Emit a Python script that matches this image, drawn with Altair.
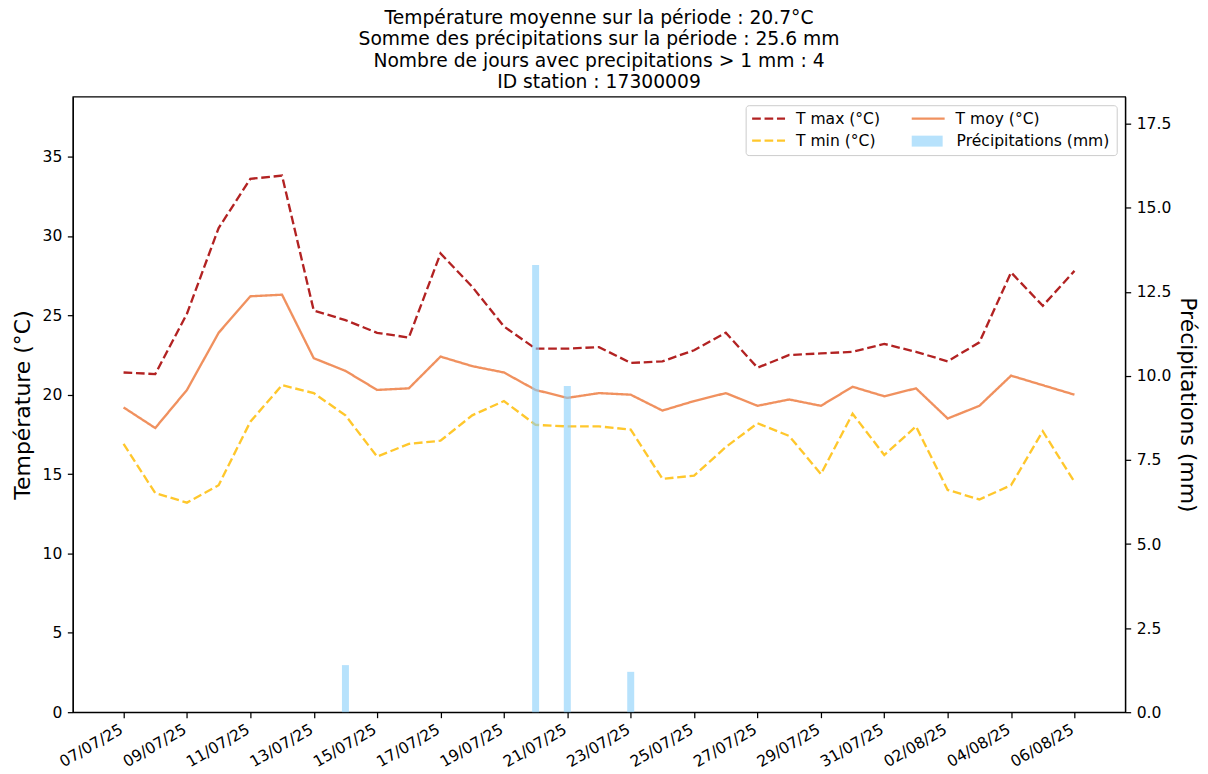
import altair as alt
import pandas as pd

dates = ["07/07/25", "08/07/25", "09/07/25", "10/07/25", "11/07/25", "12/07/25",
         "13/07/25", "14/07/25", "15/07/25", "16/07/25", "17/07/25", "18/07/25",
         "19/07/25", "20/07/25", "21/07/25", "22/07/25", "23/07/25", "24/07/25",
         "25/07/25", "26/07/25", "27/07/25", "28/07/25", "29/07/25", "30/07/25",
         "31/07/25", "01/08/25", "02/08/25", "03/08/25", "04/08/25", "05/08/25",
         "06/08/25"]

tmax = [21.4, 21.3, 25.1, 30.5, 33.6, 33.8, 25.3, 24.7, 23.9, 23.6, 28.9, 26.8,
        24.3, 22.9, 22.9, 23.0, 22.0, 22.1, 22.8, 23.9, 21.7, 22.5, 22.6, 22.7,
        23.2, 22.7, 22.1, 23.3, 27.7, 25.6, 27.8]
tmin = [16.9, 13.8, 13.2, 14.3, 18.3, 20.6, 20.1, 18.7, 16.1, 16.9, 17.1, 18.7,
        19.6, 18.1, 18.0, 18.0, 17.8, 14.7, 14.9, 16.7, 18.2, 17.4, 15.0, 18.8,
        16.2, 18.0, 14.0, 13.4, 14.3, 17.7, 14.5]
tmoy = [19.2, 17.9, 20.3, 23.9, 26.2, 26.3, 22.3, 21.5, 20.3, 20.4, 22.4, 21.8,
        21.4, 20.3, 19.8, 20.1, 20.0, 19.0, 19.6, 20.1, 19.3, 19.7, 19.3, 20.5,
        19.9, 20.4, 18.5, 19.3, 21.2, 20.6, 20.0]
precip = [0, 0, 0, 0, 0, 0, 0, 1.4, 0, 0, 0, 0, 0, 13.3, 9.7, 0, 1.2, 0, 0, 0,
          0, 0, 0, 0, 0, 0, 0, 0, 0, 0, 0]

series_names = ["T max (°C)", "T min (°C)", "T moy (°C)"]
series_colors = ["#B22222", "#FFC72C", "#F0915F"]
precip_name = "Précipitations (mm)"
title_lines = [
    "Température moyenne sur la période : 20.7°C",
    "Somme des précipitations sur la période : 25.6 mm",
    "Nombre de jours avec precipitations > 1 mm : 4",
    "ID station : 17300009",
]

FONT = "DejaVu Sans"
DASH = [8.7, 3.75]
LW = 2.35
LABEL_FS = 15.6

rows = []
for name, vals in zip(series_names, [tmax, tmin, tmoy]):
    for i, v in enumerate(vals):
        rows.append({"day": i, "date": dates[i], "series": name, "value": v})
temp_df = pd.DataFrame(rows)
precip_df = pd.DataFrame({"day": list(range(len(dates))), "date": dates, "precip": precip})

label_expr = "[" + ",".join("'" + d + "'" for d in dates) + "][datum.value]"

x_enc = alt.X(
    "day:Q",
    scale=alt.Scale(domain=[-1.6, 31.6], nice=False, zero=False, padding=0),
    axis=alt.Axis(values=list(range(0, len(dates), 2)), labelExpr=label_expr,
                  labelAngle=330, labelAlign="right", labelBaseline="top",
                  labelOverlap=False, labelBound=False, labelOffset=-6,
                  title=None, grid=False, labelPadding=4),
)

lines = alt.Chart(temp_df).mark_line(strokeWidth=LW).encode(
    x=x_enc,
    y=alt.Y("value:Q", scale=alt.Scale(domain=[0, 38.77], nice=False),
            axis=alt.Axis(title="Température (°C)", values=[0, 5, 10, 15, 20, 25, 30, 35],
                          grid=False, titlePadding=8)),
    color=alt.Color("series:N", scale=alt.Scale(domain=series_names, range=series_colors),
                    legend=None),
    strokeDash=alt.StrokeDash("series:N",
                              scale=alt.Scale(domain=series_names, range=[DASH, DASH, [1, 0]]),
                              legend=None),
    detail="series:N",
)

bars = alt.Chart(precip_df).mark_bar(size=7, color="#87CEFA", opacity=0.6).encode(
    x=x_enc,
    y=alt.Y("precip:Q", scale=alt.Scale(domain=[0, 18.3], nice=False),
            axis=alt.Axis(orient="right", title="Précipitations (mm)",
                          values=[0, 2.5, 5, 7.5, 10, 12.5, 15, 17.5], format=".1f",
                          grid=False, titlePadding=5)),
)

one = alt.Data(values=[{}])
legend_layers = [
    alt.Chart(one).mark_rect(fill="white", fillOpacity=0.8, stroke="#cccccc",
                             strokeWidth=1, cornerRadius=3).encode(
        x=alt.value(675), x2=alt.value(1047), y=alt.value(9), y2=alt.value(59)),
]
entries = [
    (series_names[0], series_colors[0], DASH, 681, 22),
    (series_names[1], series_colors[1], DASH, 681, 44),
    (series_names[2], series_colors[2], None, 841, 22),
]
for name, col, dash, lx, ly in entries:
    kw = dict(color=col, strokeWidth=LW)
    if dash:
        kw["strokeDash"] = dash
    legend_layers.append(alt.Chart(one).mark_rule(**kw).encode(
        x=alt.value(lx), x2=alt.value(lx + 33), y=alt.value(ly)))
    legend_layers.append(alt.Chart(one).mark_text(
        align="left", baseline="middle", font=FONT, fontSize=LABEL_FS, color="black").encode(
        x=alt.value(lx + 44), y=alt.value(ly), text=alt.value(name)))
legend_layers.append(alt.Chart(one).mark_rect(color="#87CEFA", opacity=0.6).encode(
    x=alt.value(841), x2=alt.value(872), y=alt.value(39), y2=alt.value(50)))
legend_layers.append(alt.Chart(one).mark_text(
    align="left", baseline="middle", font=FONT, fontSize=LABEL_FS, color="black").encode(
    x=alt.value(886), y=alt.value(44), text=alt.value(precip_name)))

chart = alt.layer(lines, bars, *legend_layers).resolve_scale(
    y="independent"
).properties(
    width=1055, height=617,
    padding={"left": 3, "top": 0, "right": 1, "bottom": 0},
    title=alt.TitleParams(text=title_lines, fontSize=18.76, font=FONT, fontWeight="normal",
                          color="black", lineHeight=21.3, anchor="middle", offset=5),
).configure_view(
    stroke="black", strokeWidth=1.25
).configure_axis(
    domainColor="black", tickColor="black", labelColor="black", titleColor="black",
    labelFont=FONT, titleFont=FONT, labelFontSize=LABEL_FS, titleFontSize=22,
    titleFontWeight="normal", tickSize=5.5, labelPadding=5.5, domainWidth=1.25,
    tickWidth=1.25,
)

chart.save("out.html", embed_options={"renderer": "svg", "actions": False})
